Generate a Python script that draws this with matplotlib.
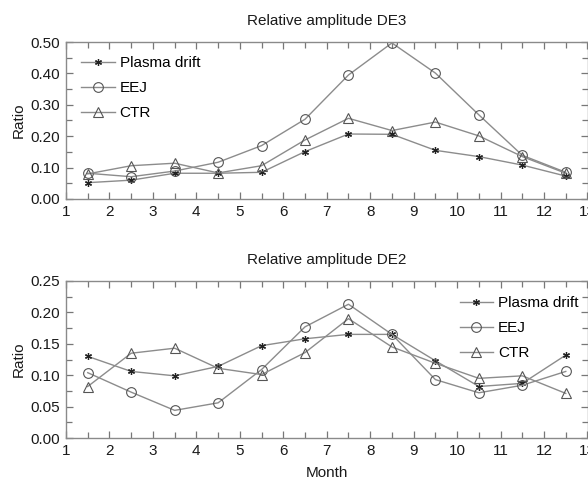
import matplotlib
matplotlib.use("Agg")
import matplotlib.pyplot as plt
from matplotlib.ticker import MultipleLocator, FormatStrFormatter

plt.rcParams['font.family'] = ['Liberation Sans', 'DejaVu Sans']

months = [1.5, 2.5, 3.5, 4.5, 5.5, 6.5, 7.5, 8.5, 9.5, 10.5, 11.5, 12.5]

de3_plasma = [0.052, 0.060, 0.082, 0.082, 0.085, 0.151, 0.207, 0.206, 0.155, 0.135, 0.108, 0.073]
de3_eej    = [0.082, 0.071, 0.089, 0.117, 0.170, 0.254, 0.395, 0.497, 0.401, 0.268, 0.139, 0.085]
de3_ctr    = [0.080, 0.106, 0.114, 0.083, 0.106, 0.188, 0.257, 0.218, 0.245, 0.201, 0.135, 0.082]

de2_plasma = [0.130, 0.106, 0.099, 0.114, 0.147, 0.158, 0.165, 0.165, 0.123, 0.082, 0.087, 0.132]
de2_eej    = [0.104, 0.073, 0.044, 0.056, 0.109, 0.177, 0.213, 0.165, 0.093, 0.072, 0.084, 0.106]
de2_ctr    = [0.082, 0.135, 0.143, 0.111, 0.101, 0.136, 0.190, 0.145, 0.119, 0.095, 0.099, 0.071]

labels = ["Plasma drift", "EEJ", "CTR"]
titles = ["Relative amplitude DE3", "Relative amplitude DE2"]

W, H = 588, 483
fig = plt.figure(figsize=(W/100, H/100), dpi=100)

def ax_rect(l, t, r, b):
    return [l/W, 1 - b/H, (r-l)/W, (b-t)/H]

ax1 = fig.add_axes(ax_rect(66, 42, 587.5, 199))
ax2 = fig.add_axes(ax_rect(66, 281, 587.5, 438))

line_c = '#8c8c8c'
edge_c = '#555555'
txt_c = '#1a1a1a'
fs = 11

def style(ax, ymax, ymaj, fmt):
    ax.set_xlim(1, 13)
    ax.set_ylim(0, ymax)
    ax.xaxis.set_major_locator(MultipleLocator(1))
    ax.xaxis.set_minor_locator(MultipleLocator(0.5))
    ax.yaxis.set_major_locator(MultipleLocator(ymaj))
    ax.yaxis.set_minor_locator(MultipleLocator(ymaj/2))
    ax.yaxis.set_major_formatter(FormatStrFormatter(fmt))
    ax.tick_params(which='both', direction='in', top=True, right=True,
                   color='#777777', width=0.9, labelsize=fs, labelcolor=txt_c, pad=4)
    ax.tick_params(which='major', length=5)
    ax.tick_params(which='minor', length=4)
    for s in ax.spines.values():
        s.set_color('#8a8a8a')
        s.set_linewidth(1.0)
    ax.set_ylabel('Ratio', fontsize=fs, color=txt_c, labelpad=4)

def draw(ax, p, e, c):
    ax.plot(months, p, color=line_c, lw=1.0, marker=(6, 2, 0), ms=5,
            mec='#222222', mew=0.9, label=labels[0])
    ax.plot(months, e, color=line_c, lw=1.0, marker='o', ms=7,
            mfc='none', mec=edge_c, mew=0.8, label=labels[1])
    ax.plot(months, c, color=line_c, lw=1.0, marker='^', ms=6.5,
            mfc='none', mec=edge_c, mew=0.8, label=labels[2])

draw(ax1, de3_plasma, de3_eej, de3_ctr)
draw(ax2, de2_plasma, de2_eej, de2_ctr)
style(ax1, 0.5, 0.1, '%.2f')
style(ax2, 0.25, 0.05, '%.2f')

ax1.set_title(titles[0], fontsize=fs, color=txt_c, pad=12)
ax2.set_title(titles[1], fontsize=fs, color=txt_c, pad=12)
ax2.set_xlabel('Month', fontsize=fs, color=txt_c, labelpad=6)

leg_kw = dict(frameon=False, fontsize=fs, handlelength=2.2, handletextpad=0.3,
              labelspacing=0.72, borderpad=0.2, borderaxespad=0.3)
ax1.legend(loc='upper left', bbox_to_anchor=(0.015, 0.96), **leg_kw)
ax2.legend(loc='upper right', bbox_to_anchor=(0.997, 0.95), **leg_kw)

fig.savefig('out.png', dpi=100)
